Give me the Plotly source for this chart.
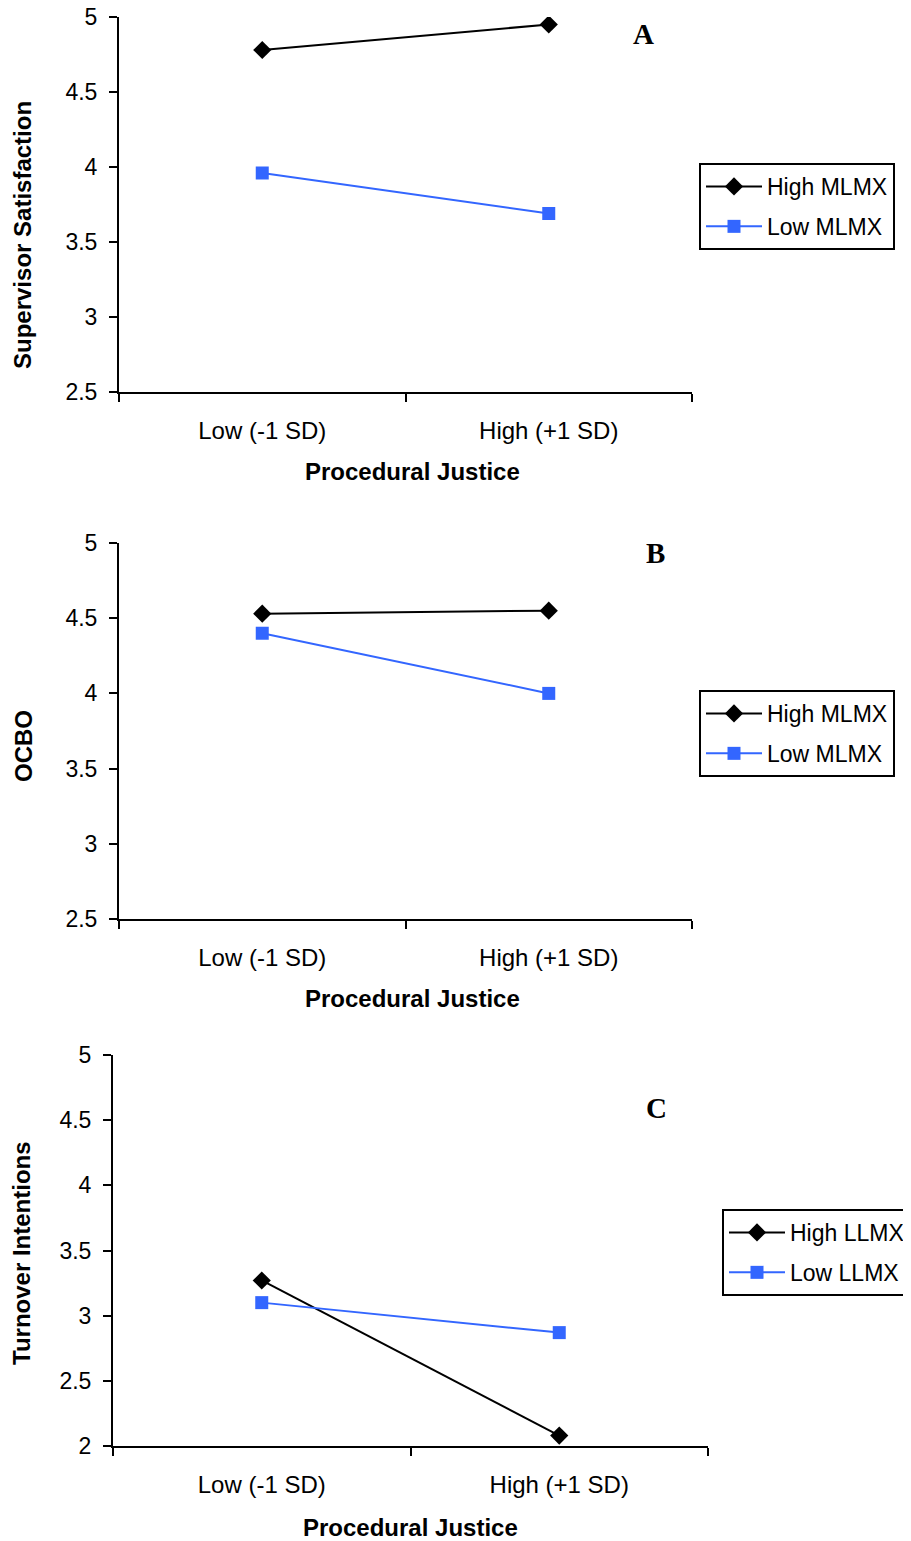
import plotly.graph_objects as go

# ---- data ----
categories = ["Low (-1 SD)", "High (+1 SD)"]
a_high_mlmx = [4.78, 4.95]
a_low_mlmx = [3.96, 3.69]
b_high_mlmx = [4.53, 4.55]
b_low_mlmx = [4.40, 4.00]
c_high_llmx = [3.27, 2.08]
c_low_llmx = [3.10, 2.87]

panel_letters = ["A", "B", "C"]
y_titles = ["Supervisor Satisfaction", "OCBO", "Turnover Intentions"]
x_title = "Procedural Justice"
legend_names = [["High MLMX", "Low MLMX"], ["High MLMX", "Low MLMX"], ["High LLMX", "Low LLMX"]]
y_ranges = [[2.5, 5], [2.5, 5], [2, 5]]

W, H = 911, 1541
OFF = 8  # default page margin of the html body
FONT = "Liberation Sans, Arial, sans-serif"
BLUE = "#3366FF"


def fx(px):
    return (px - OFF) / W


def fy(py):
    return 1 - (py - OFF) / H


# pixel geometry of panels (page coords): (left, right, top, bottom)
panels = [(119, 692, 17, 392), (119, 692, 543, 919), (113, 708, 1055, 1446)]
legend_pos = [(699, 163), (699, 690), (722, 1209)]
letter_pos = [(643, 34), (655, 553), (656, 1108)]
ytitle_pos = [(23, 235), (23, 746), (21, 1253)]
xtitle_pos = [(412, 471), (412, 998), (410, 1527)]

series = [(a_high_mlmx, a_low_mlmx), (b_high_mlmx, b_low_mlmx), (c_high_llmx, c_low_llmx)]

fig = go.Figure()
annotations = []
layout = {}
for i in range(3):
    sfx = "" if i == 0 else str(i + 1)
    leg = "legend" + sfx
    hi, lo = series[i]
    fig.add_trace(go.Scatter(
        x=categories, y=hi, mode="lines+markers", name=legend_names[i][0],
        line=dict(color="black", width=2),
        marker=dict(symbol="diamond", size=14, color="black"),
        xaxis="x" + sfx, yaxis="y" + sfx, legend=leg, legendgroup=f"g{i}a",
    ))
    fig.add_trace(go.Scatter(
        x=categories, y=lo, mode="lines+markers", name=legend_names[i][1],
        line=dict(color=BLUE, width=2),
        marker=dict(symbol="square", size=13, color=BLUE),
        xaxis="x" + sfx, yaxis="y" + sfx, legend=leg, legendgroup=f"g{i}b",
    ))
    l, r, t, b = panels[i]
    layout["xaxis" + sfx] = dict(
        domain=[fx(l), fx(r)], anchor="y" + sfx, type="category",
        range=[-0.5, 1.5], tickson="boundaries", ticks="outside", ticklen=8,
        tickwidth=2, tickcolor="black", showline=True, linecolor="black", linewidth=2,
        showgrid=False, zeroline=False, ticklabelstandoff=16,
        tickfont=dict(family=FONT, size=24, color="black"),
    )
    layout["yaxis" + sfx] = dict(
        domain=[fy(b), fy(t)], anchor="x" + sfx, range=y_ranges[i], dtick=0.5,
        tick0=y_ranges[i][0], ticks="outside", ticklen=8, tickwidth=2, tickcolor="black",
        showline=True, linecolor="black", linewidth=2, showgrid=False, zeroline=False,
        ticklabelstandoff=7, ticklabeloverflow="allow",
        tickfont=dict(family=FONT, size=23, color="black"),
    )
    lx, ly = legend_pos[i]
    layout[leg] = dict(
        x=fx(lx), y=fy(ly), xanchor="left", yanchor="top",
        bordercolor="black", borderwidth=2, bgcolor="white",
        font=dict(family=FONT, size=23, color="black"),
        traceorder="grouped", tracegroupgap=7, itemwidth=56,
    )
    ax, ay = letter_pos[i]
    annotations.append(dict(
        text=f"<b>{panel_letters[i]}</b>", x=fx(ax), y=fy(ay), xref="paper", yref="paper",
        showarrow=False, xanchor="center", yanchor="middle",
        font=dict(family="Liberation Serif, Times New Roman, serif", size=29, color="black"),
    ))
    tx, ty = ytitle_pos[i]
    annotations.append(dict(
        text=f"<b>{y_titles[i]}</b>", x=fx(tx), y=fy(ty), xref="paper", yref="paper",
        showarrow=False, xanchor="center", yanchor="middle", textangle=-90,
        font=dict(family=FONT, size=24, color="black"),
    ))
    xx, xy = xtitle_pos[i]
    annotations.append(dict(
        text=f"<b>{x_title}</b>", x=fx(xx), y=fy(xy), xref="paper", yref="paper",
        showarrow=False, xanchor="center", yanchor="middle",
        font=dict(family=FONT, size=24, color="black"),
    ))

fig.update_layout(
    width=W, height=H, margin=dict(l=0, r=0, t=0, b=0, autoexpand=False),
    paper_bgcolor="white", plot_bgcolor="white", showlegend=True,
    annotations=annotations, **layout,
)
fig.write_html("out.html")
